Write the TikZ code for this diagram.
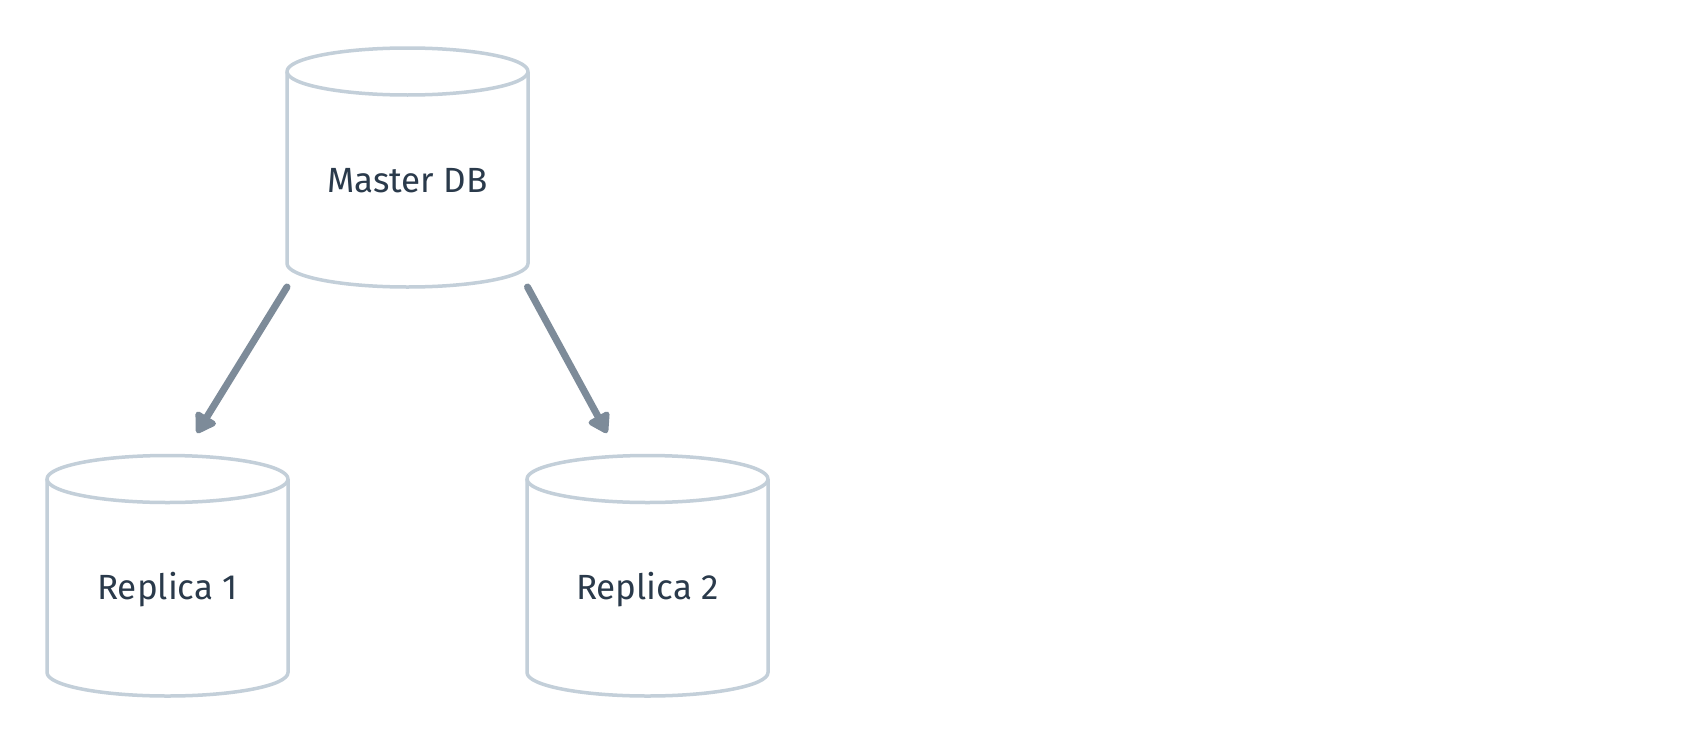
\documentclass[tikz,border=0pt]{standalone}
\usepackage{fontspec}
\setmainfont{Fira Sans}
\usetikzlibrary{arrows.meta}
\definecolor{cylline}{HTML}{C3CFD9}
\definecolor{arrowcol}{HTML}{7D8B99}
\definecolor{textcol}{HTML}{2A3A4B}
\newcommand{\dbcylinder}[5]{% cx, ytop, ybottom, rx, ry
  \draw[cylstyle] ({#1-#4},#2) -- ({#1-#4},#3)
    arc[start angle=180, end angle=0, x radius=#4, y radius=#5] -- ({#1+#4},#2);
  \draw[cylstyle] (#1,#2) ellipse[x radius=#4, y radius=#5];
}
\begin{document}
\begin{tikzpicture}[x=1pt,y=-1pt,
  cylstyle/.style={draw=cylline, line width=3.5pt, line join=round},
  dblabel/.style={text=textcol, font=\fontsize{35}{42}\selectfont, inner sep=0pt},
  flow/.style={draw=arrowcol, line width=7pt, line cap=round,
    -{Triangle[length=22pt,width=26pt,round]}}]
\useasboundingbox[fill=white] (0,0) rectangle (1692,744);
% Master DB
\dbcylinder{407.5}{71.5}{263.5}{120.5}{23.5}
\node[dblabel] (master) at (407.5,181) {Master DB};
% Replica 1
\dbcylinder{167.5}{479}{672.5}{120.5}{23.5}
\node[dblabel] (rep1) at (167.5,589.5) {Replica 1};
% Replica 2
\dbcylinder{647.5}{479}{672.5}{120.5}{23.5}
\node[dblabel] (rep2) at (647.5,589.5) {Replica 2};
% connector endpoints
\coordinate (mSW) at (287,287);
\coordinate (mSE) at (527.5,287);
\coordinate (r1in) at (197,433);
\coordinate (r2in) at (607,433);
\draw[flow] (mSW) -- (r1in);
\draw[flow] (mSE) -- (r2in);
\end{tikzpicture}
\end{document}
